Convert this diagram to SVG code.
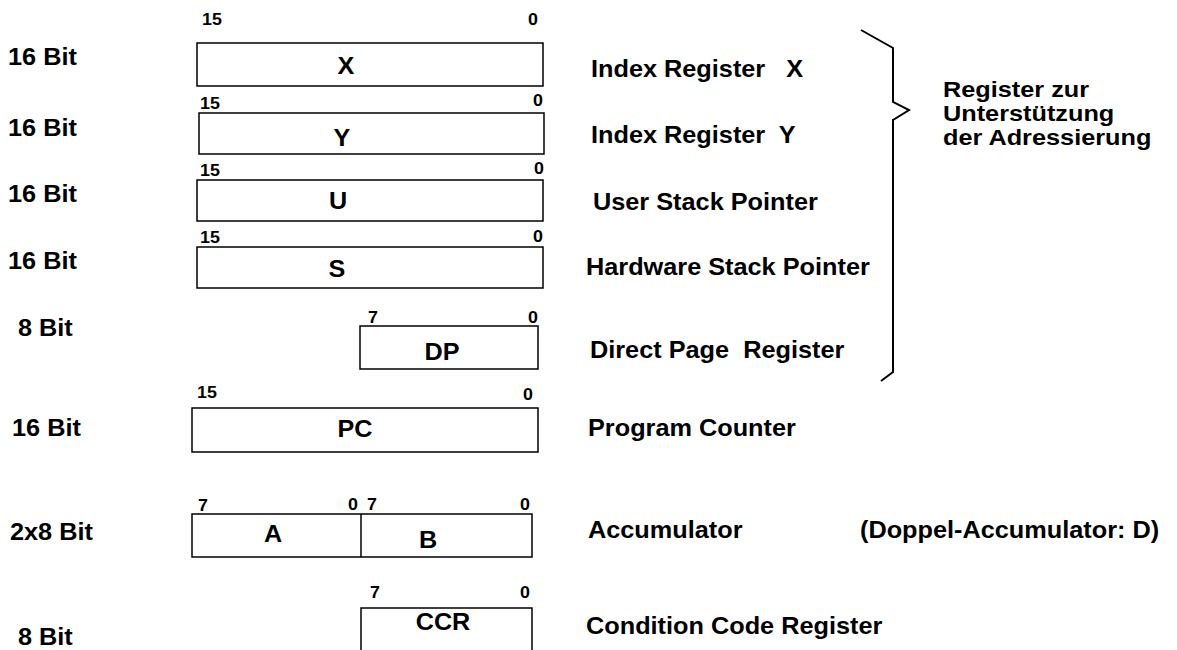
<svg xmlns="http://www.w3.org/2000/svg" width="1177" height="650" viewBox="0 0 1177 650">
<style>
text{font-family:"Liberation Sans",Arial,sans-serif;font-weight:bold;fill:#000}
.lbl{font-size:23px}
.grp{font-size:22px}
.num{font-size:17px}
.reg{font-size:24px;text-anchor:middle}
.box{fill:#fff;stroke:#000;stroke-width:1.5}
.brace{fill:none;stroke:#000;stroke-width:2;stroke-linejoin:miter}
</style>
<rect width="1177" height="650" fill="#fff"/>
<g id="reg-x">
<rect class="box" x="197" y="43" width="346" height="43"/>
<text class="num" transform="translate(202 25) scale(1.05 1)">15</text>
<text class="num" transform="translate(528 25) scale(1.05 1)">0</text>
<text class="reg" transform="translate(346 74) scale(1.05 1)">X</text>
<text class="lbl" transform="translate(8 65) scale(1.1 1)">16 Bit</text>
<text class="lbl" xml:space="preserve" transform="translate(591 77) scale(1.1 1)">Index Register   X</text>
</g>
<g id="reg-y">
<rect class="box" x="199" y="113" width="345" height="41"/>
<text class="num" transform="translate(200 109) scale(1.05 1)">15</text>
<text class="num" transform="translate(533 106) scale(1.05 1)">0</text>
<text class="reg" transform="translate(342 146) scale(1.05 1)">Y</text>
<text class="lbl" transform="translate(8 136) scale(1.1 1)">16 Bit</text>
<text class="lbl" xml:space="preserve" transform="translate(591 143) scale(1.1 1)">Index Register  Y</text>
</g>
<g id="reg-u">
<rect class="box" x="197" y="180" width="346" height="41"/>
<text class="num" transform="translate(200 176) scale(1.05 1)">15</text>
<text class="num" transform="translate(534 174) scale(1.05 1)">0</text>
<text class="reg" transform="translate(338 209) scale(1.05 1)">U</text>
<text class="lbl" transform="translate(8 202) scale(1.1 1)">16 Bit</text>
<text class="lbl" transform="translate(593 210) scale(1.1 1)">User Stack Pointer</text>
</g>
<g id="reg-s">
<rect class="box" x="197" y="247" width="346" height="41"/>
<text class="num" transform="translate(200 243) scale(1.05 1)">15</text>
<text class="num" transform="translate(533 242) scale(1.05 1)">0</text>
<text class="reg" transform="translate(337 277) scale(1.05 1)">S</text>
<text class="lbl" transform="translate(8 269) scale(1.1 1)">16 Bit</text>
<text class="lbl" transform="translate(586 275) scale(1.1 1)">Hardware Stack Pointer</text>
</g>
<g id="reg-dp">
<rect class="box" x="360" y="326" width="178" height="43"/>
<text class="num" transform="translate(368 323) scale(1.05 1)">7</text>
<text class="num" transform="translate(528 323) scale(1.05 1)">0</text>
<text class="reg" transform="translate(442 360) scale(1.05 1)">DP</text>
<text class="lbl" transform="translate(18 336) scale(1.1 1)">8 Bit</text>
<text class="lbl" xml:space="preserve" transform="translate(590 358) scale(1.1 1)">Direct Page  Register</text>
</g>
<g id="reg-pc">
<rect class="box" x="192" y="408" width="346" height="44"/>
<text class="num" transform="translate(197 398) scale(1.05 1)">15</text>
<text class="num" transform="translate(523 400) scale(1.05 1)">0</text>
<text class="reg" transform="translate(355 437) scale(1.05 1)">PC</text>
<text class="lbl" transform="translate(12 436) scale(1.1 1)">16 Bit</text>
<text class="lbl" transform="translate(588 436) scale(1.1 1)">Program Counter</text>
</g>
<g id="reg-ab">
<rect class="box" x="192" y="514" width="340" height="43"/>
<line x1="361" y1="514" x2="361" y2="557" stroke="#000" stroke-width="1.5"/>
<text class="num" transform="translate(198 511) scale(1.05 1)">7</text>
<text class="num" transform="translate(348 510) scale(1.05 1)">0</text>
<text class="num" transform="translate(367 510) scale(1.05 1)">7</text>
<text class="num" transform="translate(520 510) scale(1.05 1)">0</text>
<text class="reg" transform="translate(273 542) scale(1.05 1)">A</text>
<text class="reg" transform="translate(428 548) scale(1.05 1)">B</text>
<text class="lbl" transform="translate(10 540) scale(1.1 1)">2x8 Bit</text>
<text class="lbl" transform="translate(588 538) scale(1.1 1)">Accumulator</text>
<text class="lbl" transform="translate(860 538) scale(1.1 1)">(Doppel-Accumulator: D)</text>
</g>
<g id="reg-ccr">
<rect class="box" x="361" y="608" width="171" height="60"/>
<text class="num" transform="translate(370 598) scale(1.05 1)">7</text>
<text class="num" transform="translate(520 598) scale(1.05 1)">0</text>
<text class="reg" transform="translate(443 630) scale(1.05 1)">CCR</text>
<text class="lbl" transform="translate(18 645) scale(1.1 1)">8 Bit</text>
<text class="lbl" transform="translate(586 634) scale(1.1 1)">Condition Code Register</text>
</g>
<g id="group-brace">
<path class="brace" d="M861 30 L893 48 L893 102 L909 110 L893 120"/>
<path class="brace" stroke-width="3" d="M893 119 L893 372 L881 381"/>
<text class="grp" transform="translate(943 97) scale(1.15 1)">Register zur</text>
<text class="grp" transform="translate(943 121) scale(1.15 1)">Unterstützung</text>
<text class="grp" transform="translate(943 145) scale(1.15 1)">der Adressierung</text>
</g>
</svg>
